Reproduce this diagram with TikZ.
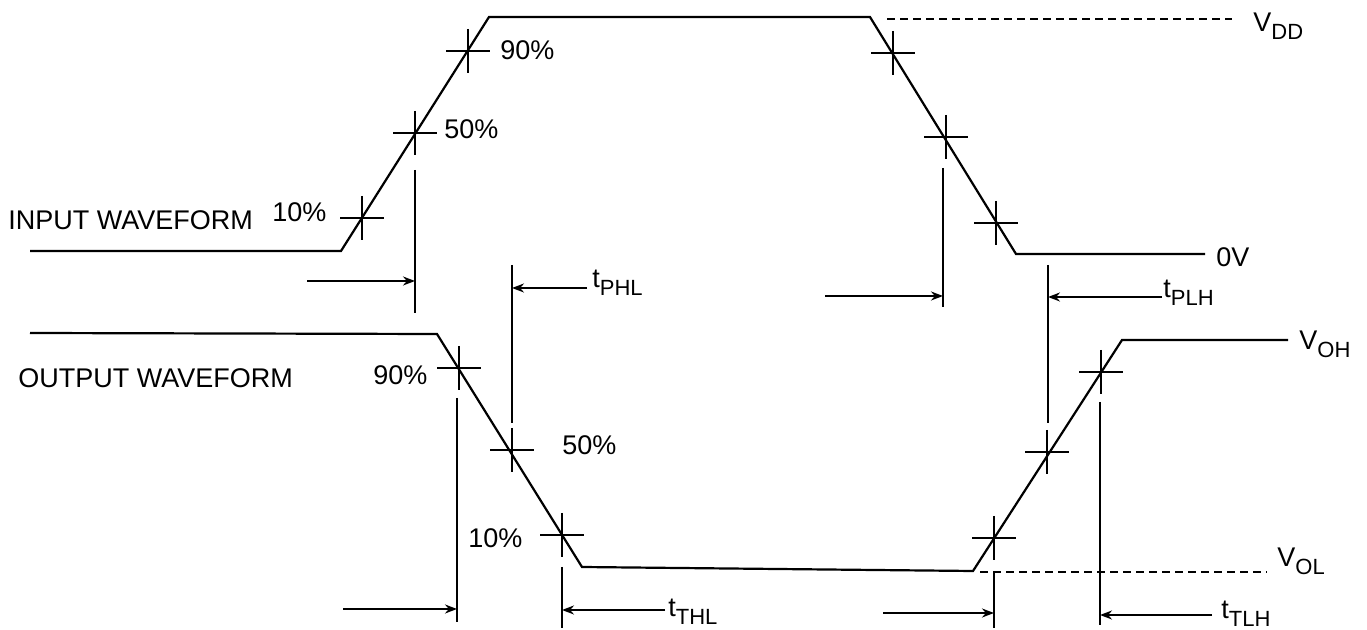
\documentclass[tikz,border=0pt]{standalone}
\usepackage{fontspec}
\setmainfont{Liberation Sans}
\usetikzlibrary{arrows.meta}
\newcommand{\sbx}[1]{\raisebox{-0.28em}{\fontsize{11}{12}\selectfont #1}}
\begin{document}
\begin{tikzpicture}[x=0.5pt,y=-0.5pt,
  wave/.style={line width=1.1pt,line join=miter},
  xhline/.style={line width=0.9pt},
  guide/.style={line width=0.9pt},
  dim/.style={line width=0.9pt,-{Stealth[length=6pt,width=4.5pt]}},
  lvl/.style={line width=0.9pt,dash pattern=on 4pt off 2.5pt},
  lbl/.style={anchor=base west,inner sep=0pt,font=\fontsize{13.5}{16}\selectfont},
  xh/.pic={\draw[xhline] (-22,0)--(22,0) (0,-22)--(0,22);}
]
\useasboundingbox (0,0) rectangle (1367,630);

% ---------- input waveform ----------
\coordinate (in1) at (30,251);
\coordinate (in2) at (341,251);
\coordinate (in3) at (489,17);
\coordinate (in4) at (870,17);
\coordinate (in5) at (1016,254);
\coordinate (in6) at (1205,254);
\draw[wave] (in1) -- (in2) -- (in3) -- (in4) -- (in5) -- (in6);

\coordinate (ir10) at (362,218);
\coordinate (ir50) at (415,133);
\coordinate (ir90) at (468,51);
\coordinate (if90) at (893,53);
\coordinate (if50) at (946,137);
\coordinate (if10) at (996,223);
\foreach \p in {ir10,ir50,ir90,if90,if50,if10} \pic at (\p) {xh};

% VDD level
\coordinate (vdd1) at (887,19);
\coordinate (vdd2) at (1232,19);
\draw[lvl] (vdd1) -- (vdd2);

% ---------- output waveform ----------
\coordinate (out1) at (30,333);
\coordinate (out2) at (437,334);
\coordinate (out3) at (582,567);
\coordinate (out4) at (973,571);
\coordinate (out5) at (1122,340);
\coordinate (out6) at (1288,340);
\draw[wave] (out1) -- (out2) -- (out3) -- (out4) -- (out5) -- (out6);

\coordinate (of90) at (459,368);
\coordinate (of50) at (512,450);
\coordinate (of10) at (562,535);
\coordinate (or10) at (994,538);
\coordinate (or50) at (1047,452);
\coordinate (or90) at (1101,372);
\foreach \p in {of90,of50,of10,or10,or50,or90} \pic at (\p) {xh};

% VOL level
\coordinate (vol1) at (980,572);
\coordinate (vol2) at (1267,572);
\draw[lvl] (vol1) -- (vol2);

% ---------- vertical reference lines ----------
\coordinate (v1t) at (415,170);  \coordinate (v1b) at (415,313);
\coordinate (v2t) at (512,265);  \coordinate (v2b) at (512,423);
\coordinate (v3t) at (943,168);  \coordinate (v3b) at (943,307);
\coordinate (v4t) at (1048,265); \coordinate (v4b) at (1048,423);
\coordinate (v5t) at (457,398);  \coordinate (v5b) at (457,622);
\coordinate (v6t) at (562,567);  \coordinate (v6b) at (562,628);
\coordinate (v7t) at (994,572);  \coordinate (v7b) at (994,628);
\coordinate (v8t) at (1100,402); \coordinate (v8b) at (1100,625);
\foreach \i in {1,...,8} \draw[guide] (v\i t) -- (v\i b);

% ---------- dimension arrows ----------
\coordinate (a1) at (307,281);
\coordinate (a2) at (587,288);
\coordinate (a3) at (825,296);
\coordinate (a4) at (1162,297);
\coordinate (a5) at (343,609);
\coordinate (a6) at (665,610);
\coordinate (a7) at (883,613);
\coordinate (a8) at (1212,615);
\draw[dim] (a1) -- (a1 -| v1t);
\draw[dim] (a2) -- (a2 -| v2t);
\draw[dim] (a3) -- (a3 -| v3t);
\draw[dim] (a4) -- (a4 -| v4t);
\draw[dim] (a5) -- (a5 -| v5t);
\draw[dim] (a6) -- (a6 -| v6t);
\draw[dim] (a7) -- (a7 -| v7t);
\draw[dim] (a8) -- (a8 -| v8t);

% ---------- labels ----------
\node[lbl] (lin)  at (8,230)   {INPUT WAVEFORM};
\node[lbl] (lout) at (18,388)  {OUTPUT WAVEFORM};
\node[lbl] (pi10) at (272,222) {10\%};
\node[lbl] (pi50) at (444,139) {50\%};
\node[lbl] (pi90) at (500,60)  {90\%};
\node[lbl] (po90) at (373,385) {90\%};
\node[lbl] (po50) at (562,455) {50\%};
\node[lbl] (po10) at (468,548) {10\%};
\node[lbl] (tphl) at (592,288) {t\sbx{PHL}};
\node[lbl] (tplh) at (1163,298){t\sbx{PLH}};
\node[lbl] (tthl) at (668,617) {t\sbx{THL}};
\node[lbl] (ttlh) at (1221,619){t\sbx{TLH}};
\node[lbl] (lvdd) at (1253,32)  {V\sbx{DD}};
\node[lbl] (l0v)  at (1216,267) {0V};
\node[lbl] (lvoh) at (1299,350) {V\sbx{OH}};
\node[lbl] (lvol) at (1277,567) {V\sbx{OL}};
\end{tikzpicture}
\end{document}
